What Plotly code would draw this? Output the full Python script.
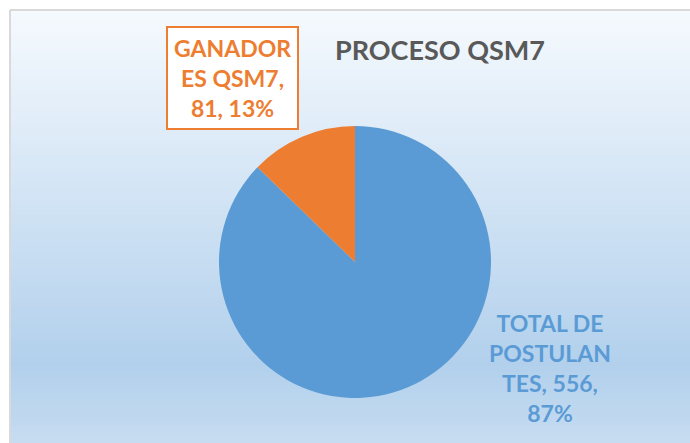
import plotly.graph_objects as go

title = "PROCESO QSM7"
labels = ["TOTAL DE POSTULANTES", "GANADORES QSM7"]
values = [556, 81]
label_lines = [["TOTAL DE", "POSTULAN", "TES, {v},", "{p}%"],
               ["GANADOR", "ES QSM7,", "{v}, {p}%"]]
colors = ["#5B9BD5", "#ED7D31"]

W, H = 690, 443
fig = go.Figure()

# background gradient (chart area)
def lerp(c1, c2, t):
    return tuple(round(a + (b - a) * t) for a, b in zip(c1, c2))

stops = [(0.0, (246, 250, 254)), (0.82, (178, 208, 236)), (1.0, (198, 220, 241))]
n = 80
x0 = 10 / W
ytop = 1 - 10 / H
for i in range(n):
    t = (i + 0.5) / n
    for (s0, c0), (s1, c1) in zip(stops[:-1], stops[1:]):
        if s0 <= t <= s1:
            col = lerp(c0, c1, (t - s0) / (s1 - s0))
            break
    y1 = ytop - ytop * i / n
    y0 = ytop - ytop * (i + 1) / n
    fig.add_shape(type="rect", xref="paper", yref="paper", x0=x0, x1=1.01,
                  y0=y0 - 0.001, y1=y1 + 0.001, line=dict(width=0),
                  fillcolor="rgb(%d,%d,%d)" % col, layer="below")
fig.add_shape(type="line", xref="paper", yref="paper", x0=x0, x1=1.01, y0=ytop, y1=ytop,
              line=dict(color="#D9D9D9", width=2), layer="below")
fig.add_shape(type="line", xref="paper", yref="paper", x0=x0, x1=x0, y0=-0.01, y1=ytop,
              line=dict(color="#D9D9D9", width=2), layer="below")

cx, cy, r = 355, 262, 136
fig.add_trace(go.Pie(
    labels=labels, values=values, sort=False, direction="clockwise", rotation=0,
    marker=dict(colors=colors, line=dict(width=0)), textinfo="none",
    hoverinfo="label+value+percent", showlegend=False,
    domain=dict(x=[(cx - r) / W, (cx + r) / W], y=[1 - (cy + r) / H, 1 - (cy - r) / H]),
))

total = sum(values)
font = "Lato, 'Open Sans', sans-serif"
positions = [(550, 368, False), (232, 78, True)]
for i, (lines, v) in enumerate(zip(label_lines, values)):
    p = round(100 * v / total)
    txt = "<br>".join(l.format(v=v, p=p) for l in lines)
    px, py, boxed = positions[i]
    fig.add_annotation(
        x=px / W, y=1 - py / H, xref="paper", yref="paper", text="<b>%s</b>" % txt,
        showarrow=False, font=dict(family=font, size=23, color=colors[i]),
        align="center", xanchor="center", yanchor="middle",
        bgcolor="white" if boxed else "rgba(0,0,0,0)",
        bordercolor=colors[i] if boxed else "rgba(0,0,0,0)",
        borderwidth=2 if boxed else 0, borderpad=6 if boxed else 0,
    )

fig.add_annotation(x=440 / W, y=1 - 49 / H, xref="paper", yref="paper",
                   text="<b>%s</b>" % title, showarrow=False,
                   font=dict(family=font, size=27, color="#595959"),
                   xanchor="center", yanchor="middle")

fig.update_layout(width=W, height=H, margin=dict(l=0, r=0, t=0, b=0),
                  paper_bgcolor="white", plot_bgcolor="white")
fig.write_html("out.html", config={"displayModeBar": False},
               post_script="document.body.style.margin='0';document.body.style.overflow='hidden';")
